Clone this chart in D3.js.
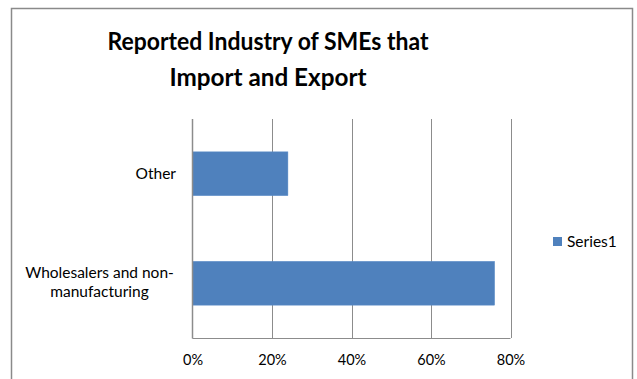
<!DOCTYPE html>
<html>
<head>
<meta charset="utf-8">
<script src="https://cdn.jsdelivr.net/npm/d3@7"></script>
<style>
  html, body { margin: 0; padding: 0; background: #fff; }
  svg { display: block; font-family: Lato, "Open Sans", sans-serif; }
</style>
</head>
<body>
<svg id="chart" width="637" height="379"></svg>
<script>
// Share of SMEs that import and export, by reported industry
const categories = ["Wholesalers and non-manufacturing", "Other"];
const categoryLines = [["Wholesalers and non-", "manufacturing"], ["Other"]];
const values = [0.76, 0.24];
const xTicks = [0, 0.2, 0.4, 0.6, 0.8];
const titleLines = ["Reported Industry of SMEs that", "Import and Export"];
const seriesName = "Series1";

const W = 637, H = 379;
const plot = { left: 192.5, right: 510.5, top: 119, bottom: 338 };
const barColor = "#4f81bd";
const gridColor = "#8c8c8c";

const svg = d3.select("#chart");

// chart frame
svg.append("rect")
  .attr("x", 11.5).attr("y", 8.5)
  .attr("width", 621).attr("height", 380)
  .attr("fill", "#fff")
  .attr("stroke", "#8a8a8a").attr("stroke-width", 1.5);

// title
const titleWidths = [321, 197];
svg.append("g").selectAll("text")
  .data(titleLines)
  .join("text")
  .attr("x", 268)
  .attr("y", (d, i) => 50 + i * 35.7)
  .attr("text-anchor", "middle")
  .attr("font-size", 24.5)
  .attr("font-weight", "bold")
  .attr("fill", "#000")
  .attr("textLength", (d, i) => titleWidths[i])
  .attr("lengthAdjust", "spacingAndGlyphs")
  .text(d => d);

const x = d3.scaleLinear().domain([0, 0.8]).range([plot.left, plot.right]);
// categories listed bottom to top, as in a horizontal bar chart
const y = d3.scaleBand()
  .domain(categories)
  .range([plot.bottom, plot.top])
  .paddingInner(0.6)
  .paddingOuter(0.3);

// vertical gridlines
svg.append("g").selectAll("line")
  .data(xTicks.filter(t => t > 0))
  .join("line")
  .attr("x1", d => Math.round(x(d)) + 0.5)
  .attr("x2", d => Math.round(x(d)) + 0.5)
  .attr("y1", plot.top)
  .attr("y2", plot.bottom)
  .attr("stroke", gridColor)
  .attr("stroke-width", 1);

// bars
svg.append("g").selectAll("rect")
  .data(categories)
  .join("rect")
  .attr("x", x(0))
  .attr("y", d => y(d))
  .attr("width", (d, i) => x(values[i]) - x(0))
  .attr("height", y.bandwidth())
  .attr("fill", barColor)
  .attr("stroke", "#5b8cc7")
  .attr("stroke-width", 0.5);

// value axis
const xAxis = d3.axisBottom(x)
  .tickValues(xTicks)
  .tickFormat(d3.format(".0%"))
  .tickSize(0)
  .tickPadding(17);
const gx = svg.append("g")
  .attr("transform", `translate(0,${plot.bottom})`)
  .call(xAxis);
gx.select(".domain").attr("stroke", gridColor).attr("stroke-width", 1.2)
  .attr("d", `M${plot.left},0.5H${plot.right}`);
gx.selectAll("text")
  .attr("font-family", "Lato, sans-serif")
  .attr("font-size", 14.5)
  .attr("fill", "#000");

// category axis line
svg.append("line")
  .attr("x1", plot.left).attr("x2", plot.left)
  .attr("y1", plot.top).attr("y2", plot.bottom + 0.5)
  .attr("stroke", gridColor).attr("stroke-width", 1.5);

// category labels
const labels = svg.append("g").selectAll("text")
  .data(categories)
  .join("text")
  .attr("font-size", 15.5)
  .attr("fill", "#000")
  .attr("text-anchor", "middle");
labels.each(function(d, i) {
  const lines = categoryLines[i];
  const cy = y(d) + y.bandwidth() / 2;
  const t = d3.select(this);
  if (lines.length === 1) {
    t.attr("text-anchor", "end");
    t.append("tspan").attr("x", 176).attr("y", cy + 5.5).text(lines[0]);
  } else {
    lines.forEach((ln, k) => {
      t.append("tspan")
        .attr("x", 99.5)
        .attr("y", cy + 4.3 + (k - (lines.length - 1) / 2) * 19)
        .text(ln);
    });
  }
});

// legend
const lg = svg.append("g").attr("transform", "translate(553,237)");
lg.append("rect").attr("width", 9).attr("height", 9).attr("fill", barColor);
lg.append("text").attr("x", 14).attr("y", 9.7)
  .attr("font-size", 15.5).attr("fill", "#000").text(seriesName);
</script>
</body>
</html>
